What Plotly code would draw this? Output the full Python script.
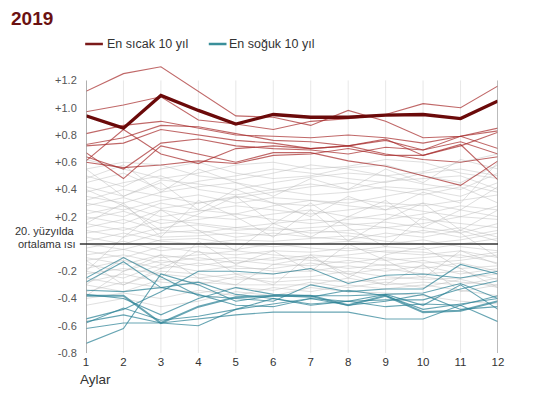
import plotly.graph_objects as go

months = list(range(1, 13))
month_labels = [str(m) for m in months]

y_tickvals = [-0.8, -0.6, -0.4, -0.2, 0.2, 0.4, 0.6, 0.8, 1.0, 1.2]
y_ticktext = ["-0.8", "-0.6", "-0.4", "-0.2", "+0.2", "+0.4", "+0.6", "+0.8", "+1.0", "+1.2"]
zero_label = ["20. yüzyılda", "ortalama ısı"]

title_text = "2019"
legend_warm = "En sıcak 10 yıl"
legend_cold = "En soğuk 10 yıl"
x_title = "Aylar"

highlight_2019 = [0.94, 0.85, 1.09, 0.98, 0.88, 0.95, 0.93, 0.93, 0.945, 0.95, 0.92, 1.05]

warm_years = [
    [1.12, 1.25, 1.30, 1.12, 0.94, 0.93, 0.87, 0.98, 0.90, 0.78, 0.79, 0.85],
    [0.97, 1.02, 1.08, 0.91, 0.88, 0.84, 0.90, 0.92, 0.95, 1.03, 1.00, 1.16],
    [0.81, 0.87, 0.90, 0.85, 0.80, 0.79, 0.78, 0.80, 0.78, 0.74, 0.79, 0.83],
    [0.73, 0.78, 0.87, 0.86, 0.81, 0.76, 0.75, 0.72, 0.77, 0.65, 0.72, 0.82],
    [0.72, 0.74, 0.84, 0.80, 0.76, 0.74, 0.70, 0.72, 0.76, 0.69, 0.79, 0.70],
    [0.64, 0.55, 0.74, 0.77, 0.72, 0.70, 0.69, 0.66, 0.71, 0.69, 0.75, 0.66],
    [0.61, 0.84, 0.66, 0.59, 0.70, 0.72, 0.70, 0.72, 0.66, 0.62, 0.60, 0.64],
    [0.67, 0.48, 0.72, 0.66, 0.60, 0.67, 0.67, 0.61, 0.57, 0.50, 0.43, 0.61],
    [0.60, 0.56, 0.58, 0.61, 0.59, 0.65, 0.66, 0.70, 0.65, 0.65, 0.73, 0.47],
]

cold_years = [
    [-0.38, -0.38, -0.58, -0.46, -0.39, -0.38, -0.38, -0.45, -0.38, -0.50, -0.49, -0.42],
    [-0.25, -0.10, -0.24, -0.38, -0.40, -0.42, -0.30, -0.35, -0.33, -0.33, -0.15, -0.22],
    [-0.28, -0.13, -0.32, -0.37, -0.45, -0.46, -0.40, -0.42, -0.37, -0.36, -0.29, -0.40],
    [-0.34, -0.35, -0.32, -0.28, -0.37, -0.40, -0.45, -0.42, -0.41, -0.41, -0.33, -0.27],
    [-0.37, -0.40, -0.52, -0.40, -0.32, -0.37, -0.38, -0.38, -0.37, -0.45, -0.30, -0.48],
    [-0.55, -0.48, -0.35, -0.20, -0.20, -0.22, -0.18, -0.29, -0.23, -0.22, -0.25, -0.20],
    [-0.58, -0.47, -0.56, -0.53, -0.48, -0.44, -0.40, -0.45, -0.42, -0.37, -0.48, -0.46],
    [-0.62, -0.58, -0.58, -0.60, -0.48, -0.40, -0.44, -0.42, -0.46, -0.44, -0.45, -0.57],
    [-0.73, -0.62, -0.22, -0.30, -0.42, -0.38, -0.39, -0.34, -0.38, -0.48, -0.44, -0.40],
    [-0.57, -0.52, -0.58, -0.55, -0.52, -0.50, -0.50, -0.50, -0.55, -0.55, -0.45, -0.38],
]

other_years = [
    [0.62, 0.55, 0.48, 0.52, 0.58, 0.60, 0.55, 0.57, 0.62, 0.60, 0.52, 0.48],
    [0.55, 0.60, 0.58, 0.50, 0.47, 0.52, 0.58, 0.55, 0.50, 0.53, 0.60, 0.66],
    [0.50, 0.42, 0.55, 0.60, 0.52, 0.48, 0.50, 0.56, 0.58, 0.50, 0.45, 0.58],
    [0.45, 0.52, 0.40, 0.46, 0.50, 0.55, 0.52, 0.48, 0.45, 0.52, 0.55, 0.50],
    [0.42, 0.35, 0.47, 0.44, 0.40, 0.45, 0.49, 0.52, 0.50, 0.44, 0.40, 0.52],
    [0.38, 0.45, 0.50, 0.40, 0.36, 0.40, 0.44, 0.40, 0.46, 0.48, 0.50, 0.40],
    [0.35, 0.30, 0.38, 0.42, 0.45, 0.40, 0.36, 0.38, 0.42, 0.40, 0.35, 0.45],
    [0.32, 0.40, 0.35, 0.30, 0.34, 0.38, 0.42, 0.45, 0.40, 0.36, 0.42, 0.30],
    [0.30, 0.25, 0.32, 0.36, 0.30, 0.34, 0.32, 0.30, 0.35, 0.40, 0.44, 0.38],
    [0.28, 0.34, 0.26, 0.30, 0.35, 0.30, 0.28, 0.33, 0.30, 0.28, 0.32, 0.36],
    [0.25, 0.20, 0.30, 0.25, 0.22, 0.28, 0.32, 0.28, 0.25, 0.30, 0.25, 0.20],
    [0.22, 0.28, 0.20, 0.24, 0.28, 0.25, 0.22, 0.25, 0.28, 0.24, 0.20, 0.28],
    [0.20, 0.15, 0.25, 0.20, 0.18, 0.22, 0.25, 0.20, 0.18, 0.22, 0.28, 0.25],
    [0.18, 0.24, 0.15, 0.18, 0.22, 0.18, 0.15, 0.18, 0.22, 0.18, 0.15, 0.12],
    [0.15, 0.10, 0.18, 0.15, 0.12, 0.15, 0.18, 0.15, 0.12, 0.15, 0.20, 0.18],
    [0.12, 0.18, 0.10, 0.08, 0.12, 0.10, 0.12, 0.14, 0.16, 0.12, 0.08, 0.15],
    [0.10, 0.05, 0.12, 0.14, 0.10, 0.12, 0.08, 0.10, 0.12, 0.08, 0.12, 0.05],
    [0.08, 0.12, 0.05, 0.06, 0.08, 0.06, 0.10, 0.08, 0.05, 0.10, 0.05, 0.10],
    [0.05, 0.00, 0.08, 0.10, 0.05, 0.08, 0.05, 0.03, 0.08, 0.05, 0.10, 0.02],
    [0.02, 0.08, 0.02, 0.00, 0.03, 0.02, 0.04, 0.06, 0.02, 0.00, 0.03, 0.08],
    [0.00, -0.04, 0.03, 0.04, 0.00, -0.02, 0.00, 0.02, 0.00, 0.03, -0.02, -0.05],
    [-0.03, 0.02, -0.05, -0.02, -0.04, 0.00, -0.03, -0.05, -0.02, -0.04, 0.00, 0.04],
    [-0.05, -0.10, -0.02, -0.06, -0.08, -0.05, -0.06, -0.03, -0.06, -0.08, -0.05, -0.10],
    [-0.08, -0.04, -0.10, -0.08, -0.05, -0.08, -0.10, -0.08, -0.05, -0.06, -0.10, -0.06],
    [-0.10, -0.15, -0.08, -0.12, -0.10, -0.12, -0.08, -0.10, -0.12, -0.10, -0.08, -0.14],
    [-0.12, -0.08, -0.14, -0.10, -0.14, -0.10, -0.12, -0.14, -0.10, -0.14, -0.12, -0.08],
    [-0.15, -0.20, -0.12, -0.16, -0.12, -0.15, -0.16, -0.12, -0.16, -0.12, -0.18, -0.16],
    [-0.18, -0.12, -0.18, -0.14, -0.18, -0.18, -0.14, -0.18, -0.15, -0.18, -0.14, -0.20],
    [-0.20, -0.25, -0.15, -0.20, -0.16, -0.20, -0.20, -0.16, -0.20, -0.16, -0.22, -0.18],
    [-0.22, -0.18, -0.22, -0.25, -0.22, -0.22, -0.18, -0.22, -0.18, -0.22, -0.20, -0.26],
    [-0.25, -0.30, -0.20, -0.22, -0.26, -0.25, -0.24, -0.20, -0.24, -0.26, -0.25, -0.22],
    [-0.28, -0.22, -0.28, -0.30, -0.24, -0.28, -0.26, -0.28, -0.26, -0.24, -0.28, -0.30],
    [-0.30, -0.35, -0.26, -0.28, -0.30, -0.30, -0.30, -0.25, -0.30, -0.28, -0.30, -0.25],
    [-0.35, -0.28, -0.32, -0.36, -0.32, -0.34, -0.28, -0.32, -0.28, -0.32, -0.26, -0.32],
    [-0.40, -0.36, -0.40, -0.34, -0.38, -0.32, -0.35, -0.30, -0.33, -0.30, -0.34, -0.38],
    [-0.45, -0.40, -0.46, -0.42, -0.35, -0.38, -0.32, -0.35, -0.36, -0.38, -0.42, -0.44],
    [0.40, 0.28, 0.10, 0.22, 0.35, 0.15, 0.05, 0.20, 0.32, 0.12, 0.25, 0.42],
    [-0.20, 0.05, 0.25, 0.10, -0.05, 0.15, 0.30, 0.12, -0.02, 0.20, 0.08, -0.10],
    [0.55, 0.35, 0.45, 0.25, 0.40, 0.30, 0.20, 0.35, 0.25, 0.38, 0.30, 0.60],
    [-0.30, -0.10, -0.25, 0.02, -0.15, -0.05, -0.20, 0.00, -0.12, -0.25, -0.05, -0.15],
    [0.15, 0.30, 0.05, 0.32, 0.20, 0.05, 0.25, 0.02, 0.18, 0.30, 0.10, 0.25],
    [-0.38, -0.20, -0.08, -0.25, -0.30, -0.15, -0.10, -0.22, -0.30, -0.15, -0.35, -0.30],
    [0.48, 0.58, 0.38, 0.55, 0.45, 0.35, 0.48, 0.40, 0.55, 0.45, 0.62, 0.55],
    [-0.12, -0.30, -0.18, -0.05, -0.22, -0.30, -0.08, -0.25, -0.08, -0.02, -0.18, -0.32],
]

GRAY = "rgba(185,185,185,0.45)"
RED = "rgba(165,40,40,0.70)"
TEAL = "rgba(45,130,150,0.72)"
DARK_RED = "#6b0a0a"
FONT = "Liberation Sans, Arial, sans-serif"

fig = go.Figure()

for ys in other_years:
    fig.add_trace(go.Scatter(x=months, y=ys, mode="lines",
                             line=dict(color=GRAY, width=1),
                             showlegend=False, hoverinfo="skip"))

for i, ys in enumerate(cold_years):
    fig.add_trace(go.Scatter(x=months, y=ys, mode="lines",
                             line=dict(color=TEAL, width=2 if i == 0 else 1.1),
                             showlegend=False, hoverinfo="skip"))

for ys in warm_years:
    fig.add_trace(go.Scatter(x=months, y=ys, mode="lines",
                             line=dict(color=RED, width=1.1),
                             showlegend=False, hoverinfo="skip"))

fig.add_trace(go.Scatter(x=months, y=highlight_2019, mode="lines",
                         line=dict(color=DARK_RED, width=3.3),
                         showlegend=False, hoverinfo="skip"))

shapes = []
for m in months:
    shapes.append(dict(type="line", xref="x", yref="y", x0=m, x1=m, y0=-0.8, y1=1.2,
                       line=dict(color="rgba(225,225,225,0.8)", width=1), layer="below"))
for m, c in [(months[0], "#9a9a9a"), (months[-1], "#a8a8a8")]:
    shapes.append(dict(type="line", xref="x", yref="y", x0=m, x1=m, y0=-0.8, y1=1.2,
                       line=dict(color=c, width=1.5), layer="above"))
shapes.append(dict(type="line", xref="paper", yref="y", x0=-0.015, x1=1, y0=0, y1=0,
                   line=dict(color="#333333", width=1.5), layer="above"))
shapes.append(dict(type="line", xref="paper", yref="paper", x0=-0.002, x1=0.041,
                   y0=1.0546, y1=1.0546, line=dict(color="#7b1a1a", width=2.5)))
shapes.append(dict(type="line", xref="paper", yref="paper", x0=0.298, x1=0.341,
                   y0=1.0546, y1=1.0546, line=dict(color="#3a8f9a", width=2.5)))

annotations = [
    dict(text="<b>" + title_text + "</b>", xref="paper", yref="paper",
         x=-0.185, y=1.140, xanchor="left", yanchor="middle", showarrow=False,
         borderpad=0,
         font=dict(family=FONT, size=19, color="#6b1111")),
    dict(text=legend_warm, xref="paper", yref="paper", x=0.045, y=1.0546,
         xanchor="left", yanchor="middle", showarrow=False,
         font=dict(family=FONT, size=12.5, color="#333333")),
    dict(text=legend_cold, xref="paper", yref="paper", x=0.343, y=1.0546,
         xanchor="left", yanchor="middle", showarrow=False,
         font=dict(family=FONT, size=12.5, color="#333333")),
    dict(text=zero_label[0], xref="paper", yref="y", x=-0.022, y=0.095,
         xanchor="right", yanchor="middle", showarrow=False,
         font=dict(family=FONT, size=11, color="#333333")),
    dict(text=zero_label[1], xref="paper", yref="y", x=-0.022, y=0.0,
         xanchor="right", yanchor="middle", showarrow=False,
         font=dict(family=FONT, size=11, color="#333333")),
    dict(text=x_title, xref="paper", yref="paper", x=-0.02, y=-0.09,
         xanchor="left", yanchor="middle", showarrow=False,
         font=dict(family=FONT, size=13.5, color="#333333")),
]

fig.update_layout(
    width=528, height=386,
    margin=dict(l=78, r=38, t=52, b=41, autoexpand=False),
    paper_bgcolor="white", plot_bgcolor="white",
    showlegend=False,
    font=dict(family=FONT, color="#555555"),
    xaxis=dict(range=[1, 12], tickvals=months, ticktext=month_labels,
               showgrid=False, zeroline=False, showline=False, automargin=False,
               ticks="", tickfont=dict(family=FONT, size=11.5, color="#333333"),
               fixedrange=True),
    yaxis=dict(range=[-0.8, 1.35], tickvals=y_tickvals, ticktext=y_ticktext,
               showgrid=False, zeroline=False, showline=False, automargin=False,
               ticks="outside", ticklen=6, tickcolor="rgba(0,0,0,0)",
               tickfont=dict(family=FONT, size=11, color="#555555"),
               fixedrange=True),
    shapes=shapes,
    annotations=annotations,
)

fig.write_html("out.html")
